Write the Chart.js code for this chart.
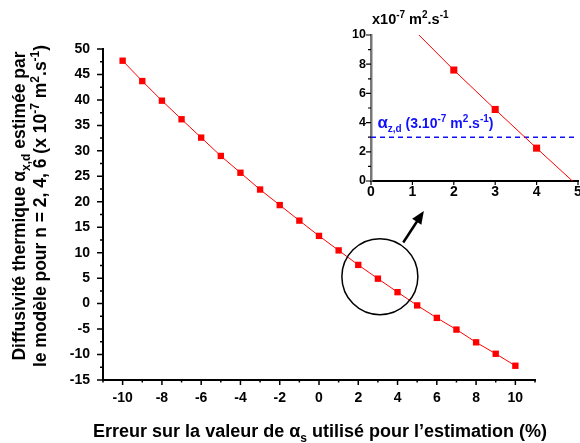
<!DOCTYPE html>
<html>
<head>
<meta charset="utf-8">
<script src="https://cdn.jsdelivr.net/npm/chart.js@4/dist/chart.umd.min.js"></script>
<style>
  html,body{margin:0;padding:0;background:#fff;overflow:hidden;}
  #wrap{position:relative;width:580px;height:443px;}
  #main{position:absolute;left:0;top:0;}
  #inset{position:absolute;left:330px;top:0;}
</style>
</head>
<body>
<div id="wrap">
  <canvas id="main" width="580" height="443"></canvas>
  <canvas id="inset" width="256" height="215"></canvas>
</div>
<script>
// ---- data ----
const errPct = [-10,-9,-8,-7,-6,-5,-4,-3,-2,-1,0,1,2,3,4,5,6,7,8,9,10];
const alphaEst = [47.7,43.7,39.85,36.2,32.6,29.0,25.7,22.4,19.35,16.3,13.3,10.45,7.6,4.9,2.25,-0.35,-2.8,-5.1,-7.6,-9.85,-12.2];
const refAlpha = 3;               // alpha_z,d = 3.10^-7 m2/s
const mainXTicks = [-10,-8,-6,-4,-2,0,2,4,6,8,10];
const mainYTicks = [-15,-10,-5,0,5,10,15,20,25,30,35,40,45,50];
const insetXTicks = [0,1,2,3,4,5];
const insetYTicks = [0,2,4,6,8,10];

const FONT = '"Liberation Sans", Arial, sans-serif';
const RED = '#ff0000', BLUE = '#1010ff';

function bold(px){ return 'bold '+px+'px '+FONT; }

// draw text made of pieces: [text, ''|'sub'|'sup'|'big']
function rich(ctx, parts, x, y, px, align){
  const sizeOf = p => p[1]==='sub'||p[1]==='sup' ? Math.round(px*0.68) : p[1]==='big' ? px*1.2 : px;
  const w = parts.reduce((s,p)=>{
    ctx.font = bold(sizeOf(p));
    return s + ctx.measureText(p[0]).width;
  },0);
  let cx = align==='center' ? x - w/2 : x;
  ctx.textBaseline = 'alphabetic';
  ctx.textAlign = 'left';
  parts.forEach(p=>{
    ctx.font = bold(sizeOf(p));
    const dy = p[1]==='sub' ? px*0.28 : p[1]==='sup' ? -px*0.42 : 0;
    ctx.fillText(p[0], cx, y+dy);
    cx += ctx.measureText(p[0]).width;
  });
}

function drawTicks(ctx, scale, values, len, horiz){
  ctx.beginPath();
  values.forEach(v=>{
    const p = scale.getPixelForValue(v);
    if(horiz){ ctx.moveTo(p, scale.top); ctx.lineTo(p, scale.top+len); }
    else { ctx.moveTo(scale.right, p); ctx.lineTo(scale.right-len, p); }
  });
  ctx.stroke();
}

const fixTicks = vals => scale => { scale.ticks = vals.map(v=>({value:v})); };

// ------ main chart decorations ------
const mainDeco = {
  id:'mainDeco',
  afterDraw(chart){
    const ctx = chart.ctx, xs = chart.scales.x, ys = chart.scales.y;
    ctx.save();
    ctx.strokeStyle = '#000'; ctx.lineWidth = 1.5;
    drawTicks(ctx, xs, mainXTicks, 5, true);
    drawTicks(ctx, xs, [-11,-9,-7,-5,-3,-1,1,3,5,7,9,11], 2.5, true);
    drawTicks(ctx, ys, mainYTicks, 6, false);
    drawTicks(ctx, ys, mainYTicks.slice(0,-1).map(v=>v+2.5), 3, false);

    // zoom circle + arrow
    ctx.lineWidth = 1.5;
    ctx.beginPath();
    ctx.arc(xs.getPixelForValue(3.1), ys.getPixelForValue(5.3), 38, 0, Math.PI*2);
    ctx.stroke();
    const x0 = xs.getPixelForValue(4.29), y0 = ys.getPixelForValue(12.0);
    const x1 = xs.getPixelForValue(5.34), y1 = ys.getPixelForValue(18.2);
    const ang = Math.atan2(y1-y0, x1-x0);
    ctx.lineWidth = 2.5;
    ctx.beginPath();
    ctx.moveTo(x0,y0);
    ctx.lineTo(x1-9*Math.cos(ang), y1-9*Math.sin(ang));
    ctx.stroke();
    ctx.fillStyle = '#000';
    ctx.beginPath();
    ctx.moveTo(x1,y1);
    ctx.lineTo(x1-13*Math.cos(ang)+5.5*Math.sin(ang), y1-13*Math.sin(ang)-5.5*Math.cos(ang));
    ctx.lineTo(x1-13*Math.cos(ang)-5.5*Math.sin(ang), y1-13*Math.sin(ang)+5.5*Math.cos(ang));
    ctx.closePath();
    ctx.fill();

    // axis titles
    ctx.fillStyle = '#000';
    rich(ctx, [['Erreur sur la valeur de α',''],['s','sub'],[' utilisé pour l’estimation (%)','']], 320, 437, 18, 'center');
    ctx.save();
    ctx.translate(25, 206);
    ctx.rotate(-Math.PI/2);
    rich(ctx, [['Diffusivité thermique α',''],['x,d','sub'],[' estimée par','']], 0, 0, 17.5, 'center');
    rich(ctx, [['le modèle pour n = 2, 4, 6 (x 10',''],['-7','sup'],[' m',''],['2','sup'],['.s',''],['-1','sup'],[')','']], 0, 21, 17.5, 'center');
    ctx.restore();
    ctx.restore();
  }
};

const tickFont = {family:FONT, size:14, weight:'bold'};

new Chart(document.getElementById('main'), {
  type:'scatter',
  data:{datasets:[{
    data: errPct.map((x,i)=>({x, y:alphaEst[i]})),
    showLine:true, borderColor:RED, borderWidth:1,
    pointStyle:'rect', pointRadius:4.5, pointBackgroundColor:RED, pointBorderColor:RED, pointBorderWidth:0
  }]},
  options:{
    responsive:false, animation:false, devicePixelRatio:1,
    layout:{padding:{left:0, top:49, right:45, bottom:0}},
    plugins:{legend:{display:false}, tooltip:{enabled:false}},
    scales:{
      x:{type:'linear', min:-11, max:11,
        afterBuildTicks: fixTicks(mainXTicks),
        afterFit: s=>{ s.height = 63; },
        grid:{display:false, drawTicks:false}, border:{display:true, color:'#000', width:2},
        ticks:{color:'#000', font:tickFont, padding:10, maxRotation:0}
      },
      y:{type:'linear', min:-15, max:50,
        afterBuildTicks: fixTicks(mainYTicks),
        afterFit: s=>{ s.width = 103; },
        grid:{display:false, drawTicks:false}, border:{display:true, color:'#000', width:2},
        ticks:{color:'#000', font:tickFont, padding:13}
      }
    }
  },
  plugins:[mainDeco]
});

// ------ inset ------
const insetDeco = {
  id:'insetDeco',
  afterDraw(chart){
    const ctx = chart.ctx, xs = chart.scales.x, ys = chart.scales.y;
    ctx.save();
    ctx.strokeStyle = '#000'; ctx.lineWidth = 1.2;
    drawTicks(ctx, xs, insetXTicks, 4, true);
    drawTicks(ctx, ys, insetYTicks, 5, false);
    drawTicks(ctx, ys, [1,3,5,7,9], 3, false);
    ctx.fillStyle = '#000';
    rich(ctx, [['x10',''],['-7','sup'],[' m',''],['2','sup'],['.s',''],['-1','sup']], 42, 24, 14.5, 'left');
    // alpha_z,d label next to the dashed line
    ctx.fillStyle = BLUE;
    const lx = xs.getPixelForValue(0.3), ly = ys.getPixelForValue(4);
    rich(ctx, [['α','big'],['z,d','sub'],[' (3.10',''],['-7','sup'],[' m',''],['2','sup'],['.s',''],['-1','sup'],[')','']], lx-6, ly+5, 14, 'left');
    ctx.restore();
  }
};

new Chart(document.getElementById('inset'), {
  type:'scatter',
  data:{datasets:[
    {
      data: errPct.map((x,i)=>({x, y:alphaEst[i]})),
      showLine:true, borderColor:RED, borderWidth:1, clip:0,
      pointStyle:'rect', pointRadius:5, pointBackgroundColor:RED, pointBorderColor:RED, pointBorderWidth:0
    },
    {
      data: [{x:0, y:refAlpha},{x:5, y:refAlpha}],
      showLine:true, borderColor:BLUE, borderWidth:1.5, borderDash:[5,4], pointRadius:0, clip:0
    }
  ]},
  options:{
    responsive:false, animation:false, devicePixelRatio:1,
    layout:{padding:{left:0, top:35, right:8, bottom:0}},
    plugins:{legend:{display:false}, tooltip:{enabled:false}},
    scales:{
      x:{type:'linear', min:0, max:5,
        afterBuildTicks: fixTicks(insetXTicks),
        afterFit: s=>{ s.height = 34; },
        grid:{display:false, drawTicks:false}, border:{display:true, color:'#000', width:2},
        ticks:{color:'#000', font:{family:FONT, size:14, weight:'bold'}, padding:3, maxRotation:0}
      },
      y:{type:'linear', min:0, max:10,
        afterBuildTicks: fixTicks(insetYTicks),
        afterFit: s=>{ s.width = 41; },
        grid:{display:false, drawTicks:false}, border:{display:true, color:'#777', width:2.5},
        ticks:{color:'#000', font:{family:FONT, size:12.5, weight:'bold'}, padding:5}
      }
    }
  },
  plugins:[insetDeco]
});
</script>
</body>
</html>
